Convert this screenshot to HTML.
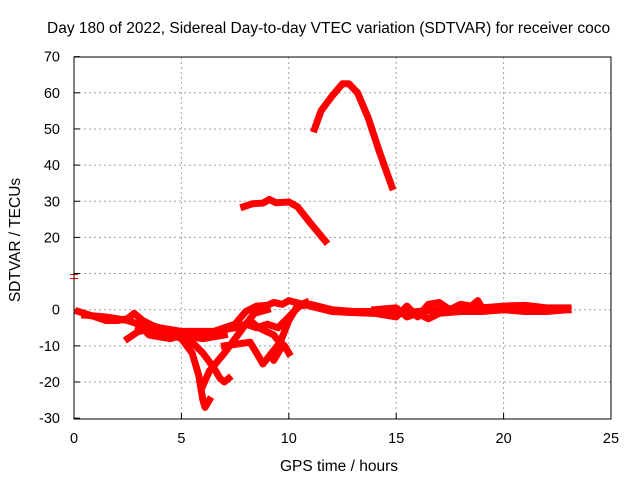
<!DOCTYPE html>
<html><head><meta charset="utf-8"><style>
body{margin:0;background:#fff}
svg{display:block;font-family:"Liberation Sans",sans-serif}
</style></head><body>
<svg id="chart" width="640" height="480">
<text x="47" y="33" font-size="15.5">Day 180 of 2022, Sidereal Day-to-day VTEC variation (SDTVAR) for receiver coco</text>
<text x="339" y="471" font-size="15.5" text-anchor="middle">GPS time / hours</text>
<text transform="translate(20,240) rotate(-90)" font-size="15.5" text-anchor="middle">SDTVAR / TECUs</text>
<g id="grid"></g><g id="ticks"></g><g id="series"></g>
<rect x="74" y="57" width="537" height="362" fill="none" stroke="#000" stroke-width="1"/>
</svg>
<script>
const xTicks=[0,5,10,15,20,25];
const yTicks=[-30,-20,-10,0,10,20,30,40,50,60,70];
const yTickLabels=["-30","-20","-10","0","","20","30","40","50","60","70"];
const seriesArc=[[11.2,50],[11.5,55],[12,59],[12.5,62.5],[12.8,62.5],[13.2,60],[13.7,53],[14.2,44],[14.8,34]];
const seriesPlateau=[[7.9,28.5],[8.3,29.3],[8.8,29.5],[9.1,30.5],[9.4,29.6],[10,29.8],[10.4,28.5],[11,24],[11.7,19]];
const seriesMain=[[0.2,-0.5],[1,-2],[1.5,-3],[2,-3],[2.5,-2.5],[2.8,-1],[3.2,-3],[3.7,-4.5],[4.5,-6],[5,-6.5],[5.5,-7],[6,-7],[6.5,-6],[7,-5.5],[7.5,-5],[8,-4],[8.5,-5],[9,-4],[9.5,-5],[10,-2],[10.5,1],[11,1.5],[12,0],[13,-0.5],[14,-0.5],[15,-1],[16,-0.5],[17,0],[18,0.5],[19,0.5],[20,0.5],[21,0.8],[22,0.3],[23,0]];
const seriesUpper=[[2.5,-8],[3,-6],[4,-5],[5,-6],[5.8,-6],[6.5,-6],[7,-5],[7.5,-4],[8,-0.5],[8.5,1],[9,1.2],[9.3,2],[9.7,1.5],[10,2.5],[11,1],[12,-0.5],[13,-0.8],[14,-1],[15,-2],[15.5,1],[16,-2],[16.5,1.5],[17,2],[17.5,0],[18,1.5],[18.5,1],[18.8,2.5],[19,0.5],[20,1],[21,1.2],[22,0.5],[23,0.5]];
const seriesBandEarly=[[0.5,-1.5],[1.5,-2],[2.5,-3],[3,-4],[3.5,-7],[4.5,-8],[5,-7],[6,-8],[7,-7]];
const seriesBandLate=[[14,0],[15,0.5],[15.5,-2],[16,-1],[16.5,-2.5],[17,-1],[18,-0.5],[19,-0.5],[20,0],[21,-0.5],[22,-0.5],[23,0]];
const seriesDip=[[3,-5],[4,-6],[5,-8],[5.5,-12],[5.8,-18],[6,-25],[6.1,-27],[6.3,-25]];
const seriesHook=[[4,-6],[5,-6],[5.5,-9],[6,-12],[6.5,-16],[6.8,-19],[7,-20],[7.2,-19]];
const seriesRise=[[6,-21],[6.3,-17],[7,-12],[7.5,-8],[8,-4],[8.4,-1],[9,0]];
const seriesSwing=[[7,-10],[7.6,-9.5],[8.2,-9],[8.5,-12],[8.8,-15],[9.2,-12],[9.6,-9],[9.8,-10],[10,-12]];
const seriesBranch=[[8.2,-3],[8.6,-5],[9.3,-7],[9.7,-10],[9.3,-14],[9.6,-9],[10,-3],[10.4,1],[10.8,2]];
const allSeries=[seriesArc,seriesPlateau,seriesMain,seriesUpper,seriesBandEarly,seriesBandLate,seriesDip,seriesHook,seriesRise,seriesSwing,seriesBranch];
const NS="http://www.w3.org/2000/svg";
const X=h=>74+h*21.48, Y=v=>309.7-v*3.615;
const grid=document.getElementById('grid'),ticks=document.getElementById('ticks'),ser=document.getElementById('series');
function mk(tag,attrs,parent){const e=document.createElementNS(NS,tag);for(const k in attrs)e.setAttribute(k,attrs[k]);parent.appendChild(e);return e;}
xTicks.forEach(t=>{
  if(t>0&&t<25){const g=mk('line',{x1:X(t),x2:X(t),y1:57,y2:419,stroke:'#a0a0a0','stroke-dasharray':'2,3'},grid);
  
  }
  mk('line',{x1:X(t),x2:X(t),y1:419,y2:413,stroke:'#000'},ticks);
  const l=mk('text',{x:X(t),y:443,'font-size':14.5,'text-anchor':'middle'},ticks);l.textContent=t;
  
  
});
yTicks.forEach((t,i)=>{
  if(t>-30&&t<70){const g=mk('line',{x1:74,x2:611,y1:Y(t),y2:Y(t),stroke:'#a0a0a0','stroke-dasharray':'2,3'},grid);
  
  }
  mk('line',{x1:74,x2:80,y1:Y(t),y2:Y(t),stroke:'#000'},ticks);
  const l=mk('text',{x:60,y:Y(t)+5,'font-size':14.5,'text-anchor':'end'},ticks);l.textContent=yTickLabels[i];
  
  
});
mk('line',{x1:70,x2:78,y1:Y(10)+1,y2:Y(10)+1,stroke:'#f00'},ticks);
mk('line',{x1:70,x2:78,y1:Y(10)+5,y2:Y(10)+5,stroke:'#f00'},ticks);
allSeries.forEach(s=>{
  const p=mk('polyline',{points:s.map(d=>X(d[0])+','+Y(d[1])).join(' '),fill:'none',stroke:'#f00','stroke-width':7,'stroke-linejoin':'round','stroke-linecap':'square'},ser);
  
  
});
</script>
</body></html>
